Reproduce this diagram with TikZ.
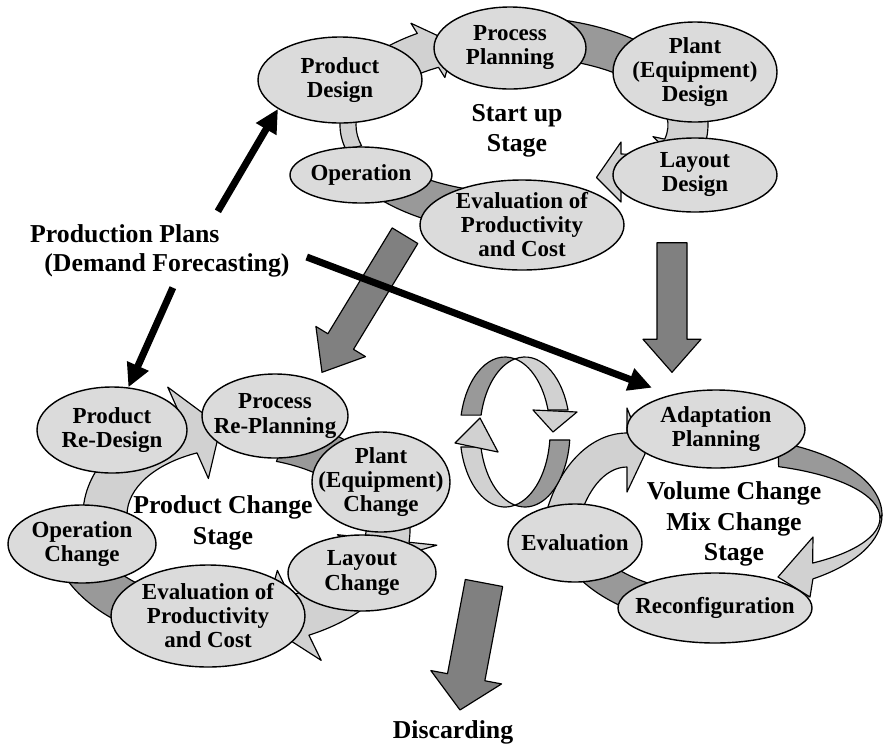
\documentclass[tikz,border=0pt]{standalone}
\usepackage{fontspec}
\setmainfont{Liberation Serif}
\usetikzlibrary{shapes.geometric,arrows.meta,calc,positioning}

\definecolor{ovalgray}{gray}{0.86}
\definecolor{lightband}{gray}{0.82}
\definecolor{darkband}{gray}{0.6}
\definecolor{bigarrowgray}{gray}{0.5}

\newcommand\ovalfont{\bfseries\fontsize{19.6}{20.5}\selectfont}
\newcommand\stagefont{\bfseries\fontsize{22}{26}\selectfont}
\newcommand\planfont{\bfseries\fontsize{22}{25}\selectfont}

\tikzset{
oval/.style 2 args={
  ellipse, draw, line width=1.2pt, fill=ovalgray,
  align=center, inner sep=-20pt, font=\ovalfont,
  minimum width=#1*0.03cm, minimum height=#2*0.03cm
  },
stagetext/.style={align=center, font=\stagefont, inner sep=0pt},
ringband/.style={draw, line width=1pt, line join=round},
planarrow/.style={line width=6pt, -{Triangle[length=20pt,width=19pt]}},
greyarrow/.style={draw, fill=bigarrowgray, line width=1pt, line join=round}
}

% curved band arrow on the ellipse (ring): start, head base, tip angle
\newcommand\ringarrow[4][lightband]{%
  \pgfmathsetmacro\rox{\ringrx+\bandw}\pgfmathsetmacro\roy{\ringry+\bandw}%
  \pgfmathsetmacro\rix{\ringrx-\bandw}\pgfmathsetmacro\riy{\ringry-\bandw}%
  \pgfmathsetmacro\hox{\ringrx+\headw}\pgfmathsetmacro\hoy{\ringry+\headw}%
  \pgfmathsetmacro\hix{\ringrx-\headw}\pgfmathsetmacro\hiy{\ringry-\headw}%
  \filldraw[ringband, fill=#1]
    ($(ring)+(#2:{\rox} and {\roy})$)
    arc[start angle=#2, end angle=#3, x radius=\rox, y radius=\roy]
    -- ($(ring)+(#3:{\hox} and {\hoy})$)
    -- ($(ring)+(#4:{\ringrx} and {\ringry})$)
    -- ($(ring)+(#3:{\hix} and {\hiy})$)
    -- ($(ring)+(#3:{\rix} and {\riy})$)
    arc[start angle=#3, end angle=#2, x radius=\rix, y radius=\riy]
    -- cycle;}

% straight block arrow: from, to, shaft half width, head half width, head length
\newcommand\fatarrow[5]{%
  \coordinate (fa-b) at ($(#2)!#5!(#1)$);
  \filldraw[greyarrow] ($(#1)!#3!90:(#2)$) -- ($(fa-b)!#3!90:(#2)$)
    -- ($(fa-b)!#4!90:(#2)$) -- (#2) -- ($(fa-b)!#4!-90:(#2)$)
    -- ($(fa-b)!#3!-90:(#2)$) -- ($(#1)!#3!-90:(#2)$) -- cycle;}

\begin{document}
\begin{tikzpicture}[x=0.03cm, y=-0.03cm]
\useasboundingbox (0,0) rectangle (884,744);

% start up stage ring
\coordinate (ring) at (518,125);
\def\ringrx{170}\def\ringry{88}\def\bandw{20}\def\headw{32}
\ringarrow{205}{238}{248}
\ringarrow[darkband]{275}{318}{328}
\ringarrow{335}{372}{382}
\ringarrow[darkband]{100}{150}{160}
\begin{scope}
\def\bandw{8}\def\headw{16}
\ringarrow{165}{195}{205}
\end{scope}
\begin{scope}
\coordinate (ring) at (621,230);
\def\ringrx{58}\def\ringry{58}\def\bandw{18}\def\headw{30}
\ringarrow{300}{270}{245}
\end{scope}

% product change stage ring
\coordinate (ring) at (230,530);
\def\ringrx{158}\def\ringry{95}\def\bandw{22}\def\headw{50}
\ringarrow[darkband]{290}{326}{340}
\ringarrow{350}{366}{380}
\ringarrow{25}{64}{78}
\ringarrow[darkband]{120}{166}{180}
\begin{scope}
\coordinate (ring) at (245,515);
\def\ringrx{140}\def\ringry{90}
\ringarrow{180}{246}{260}
\end{scope}

% volume / mix change stage ring
\coordinate (ring) at (718,520);
\def\ringrx{150}\def\ringry{90}\def\bandw{16}\def\headw{38}
\ringarrow[darkband]{105}{160}{175}
\coordinate (ring) at (627,560);
\def\ringrx{70}\def\ringry{110}\def\bandw{17}\def\headw{42}
\ringarrow{200}{270}{285}

\coordinate (tw-o) at (720,515);
\coordinate (tw-i) at (722,518);
\filldraw[ringband, fill=darkband] ($(tw-o)+(-69:162 and 78)$)
  arc[start angle=-69, end angle=0, x radius=162, y radius=78]
  -- ($(tw-i)+(0:158 and 55)$)
  arc[start angle=0, end angle=-69, x radius=158, y radius=55] -- cycle;
\filldraw[ringband, fill=lightband] ($(tw-o)+(0:162 and 78)$)
  arc[start angle=0, end angle=55, x radius=162, y radius=78]
  -- (810,597) -- (778,577) -- (813,537)
  -- ($(tw-i)+(55:158 and 55)$)
  arc[start angle=55, end angle=0, x radius=158, y radius=55] -- cycle;

% start up stage
\node[oval={164}{86}] (pd) at (340,80) {Product\\Design};
\node[oval={152}{82}] (pp) at (510,48) {Process\\Planning};
\node[oval={164}{100}] (ped) at (695,72) {Plant\\(Equipment)\\Design};
\node[oval={164}{74}] (ld) at (695,175) {Layout\\Design};
\node[oval={204}{90}] (ev) at (522,225) {Evaluation of\\Productivity\\and Cost};
\node[oval={142}{56}] (op) at (361,175) {Operation};
\node[stagetext] (st1) at (517,131) {Start up\\Stage};

% product change stage
\node[oval={150}{86}] (prd) at (112,430) {Product\\Re-Design};
\node[oval={146}{84}] (prp) at (275,416) {Process\\Re-Planning};
\node[oval={138}{100}] (pec) at (381,482) {Plant\\(Equipment)\\Change};
\node[oval={148}{76}] (lc) at (362,573) {Layout\\Change};
\node[oval={194}{102}] (evc) at (208,616) {Evaluation of\\Productivity\\and Cost};
\node[oval={148}{78}] (oc) at (82,544) {Operation\\Change};
\node[stagetext] (st2) at (223,523) {Product Change\\Stage};

% volume / mix change stage
\node[oval={178}{78}] (ap) at (716,429) {Adaptation\\Planning};
\node[oval={134}{78}] (eva) at (575,543) {Evaluation};
\node[oval={194}{70}] (rc) at (715,608) {Reconfiguration};
\node[stagetext] (st3) at (734,524) {Volume Change\\Mix Change\\Stage};

\node[font=\planfont, align=left, inner sep=0pt, anchor=west] (plans) at (30,251)
  {Production Plans\\\hspace*{0.55em}(Demand Forecasting)};
\node[font=\stagefont, inner sep=0pt] (disc) at (453,732) {Discarding};

% twisted loop between the stages
\coordinate (lpl) at (505,432);
\coordinate (lpr) at (525,432);
\filldraw[ringband, fill=lightband] ($(lpl)+(77.2:45 and 75)$)
  arc[start angle=77.2, end angle=168.5, x radius=45, y radius=75]
  -- ($(lpr)+(168.5:45 and 75)$)
  arc[start angle=168.5, end angle=102.8, x radius=45, y radius=75] -- cycle;
\filldraw[ringband, fill=darkband] ($(lpl)+(193:45 and 75)$)
  arc[start angle=193, end angle=282.8, x radius=45, y radius=75]
  arc[start angle=257.2, end angle=193, x radius=45, y radius=75] -- cycle;
\filldraw[ringband, fill=lightband] ($(lpr)+(257.2:45 and 75)$)
  arc[start angle=257.2, end angle=343, x radius=45, y radius=75]
  -- ($(lpl)+(343:45 and 75)$)
  arc[start angle=343, end angle=282.8, x radius=45, y radius=75] -- cycle;
\filldraw[ringband, fill=darkband] ($(lpr)+(6.1:45 and 75)$)
  arc[start angle=6.1, end angle=102.8, x radius=45, y radius=75]
  arc[start angle=77.2, end angle=6.1, x radius=45, y radius=75] -- cycle;
\filldraw[ringband, fill=lightband] (455,443) -- (480,418) -- (498,452) -- cycle;
\filldraw[ringband, fill=lightband] (533,410) -- (553,432) -- (577,412) -- cycle;

% stage transitions
\coordinate (ga-s) at ([shift={(-117,-35)}]ev.south);
\coordinate (ga-e) at ([shift={(47,-1)}]prp.north);
\fatarrow{ga-s}{ga-e}{0.45cm}{0.87cm}{1.08cm}
\coordinate (gb-s) at ([shift={(-23,30)}]ld.south);
\coordinate (gb-e) at ([shift={(-44,-17)}]ap.north);
\fatarrow{gb-s}{gb-e}{0.45cm}{0.87cm}{0.99cm}
\coordinate (gc-s) at ([shift={(31,-137)}]disc.north);
\coordinate (gc-e) at ([shift={(7,-10)}]disc.north);
\fatarrow{gc-s}{gc-e}{0.57cm}{1.08cm}{1.0cm}

% production plans
\draw[planarrow] ([shift={(58,-13)}]plans.north) -- (pd.205);
\draw[planarrow] ([shift={(13,10)}]plans.south) -- (prd.69);
\draw[planarrow, shorten >=17pt] ([shift={(17,6)}]plans.east) -- (ap.143);
\end{tikzpicture}
\end{document}
